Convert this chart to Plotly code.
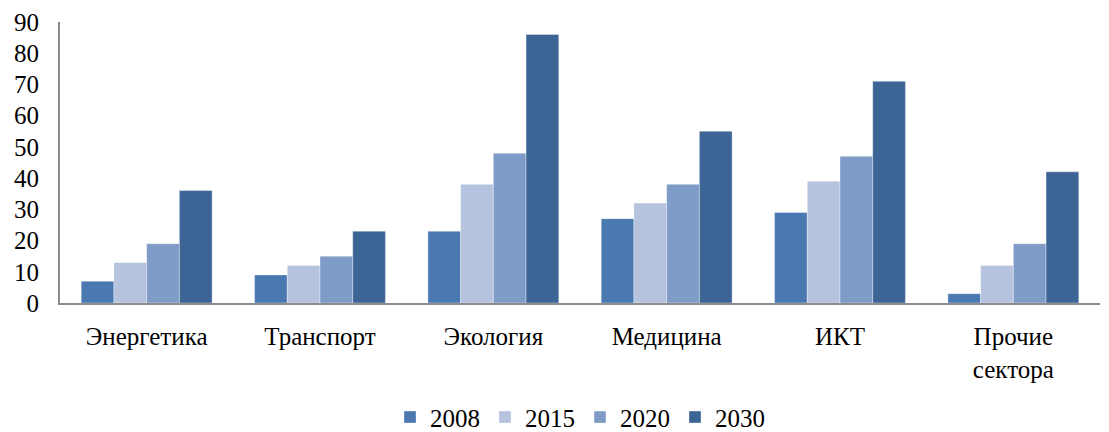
import plotly.graph_objects as go

categories = ["Энергетика", "Транспорт", "Экология", "Медицина", "ИКТ", "Прочие<br>сектора"]
series_names = ["2008", "2015", "2020", "2030"]
v2008 = [7, 9, 23, 27, 29, 3]
v2015 = [13, 12, 38, 32, 39, 12]
v2020 = [19, 15, 48, 38, 47, 19]
v2030 = [36, 23, 86, 55, 71, 42]
y_ticks = [0, 10, 20, 30, 40, 50, 60, 70, 80, 90]

colors = ["#4a78b0", "#b5c3de", "#7f9bc7", "#3c6495"]
values = [v2008, v2015, v2020, v2030]

fig = go.Figure()
for name, vals, c in zip(series_names, values, colors):
    fig.add_trace(go.Bar(x=categories, y=vals, name=name, marker_color=c,
                         marker_line=dict(color="rgba(255,255,255,0.6)", width=0.6)))

font = "Liberation Serif, Times New Roman, serif"
fig.update_layout(
    width=1109, height=432,
    margin=dict(l=60, r=9, t=22, b=129, autoexpand=False),
    plot_bgcolor="white", paper_bgcolor="white",
    barmode="group", bargap=0.245, bargroupgap=0,
    font=dict(family=font, size=25, color="black"),
    showlegend=True,
    legend=dict(orientation="h", x=0.5, xanchor="center", y=-0.325, yanchor="top",
                font=dict(family=font, size=25), itemwidth=30, traceorder="normal"),
    xaxis=dict(showline=True, linecolor="#8c8c8c", linewidth=2, ticks="",
               tickfont=dict(family=font, size=25), showgrid=False,
               automargin=False, ticklabelstandoff=10),
    yaxis=dict(range=[0, 90], tickvals=y_ticks, showline=True, linecolor="#8c8c8c",
               linewidth=2, showgrid=False, ticks="", zeroline=False,
               tickfont=dict(family=font, size=25), automargin=False,
               ticklabelstandoff=14),
)
fig.write_html("out.html", config={"displayModeBar": False},
               post_script="document.body.style.margin='0';document.body.style.overflow='hidden';")
